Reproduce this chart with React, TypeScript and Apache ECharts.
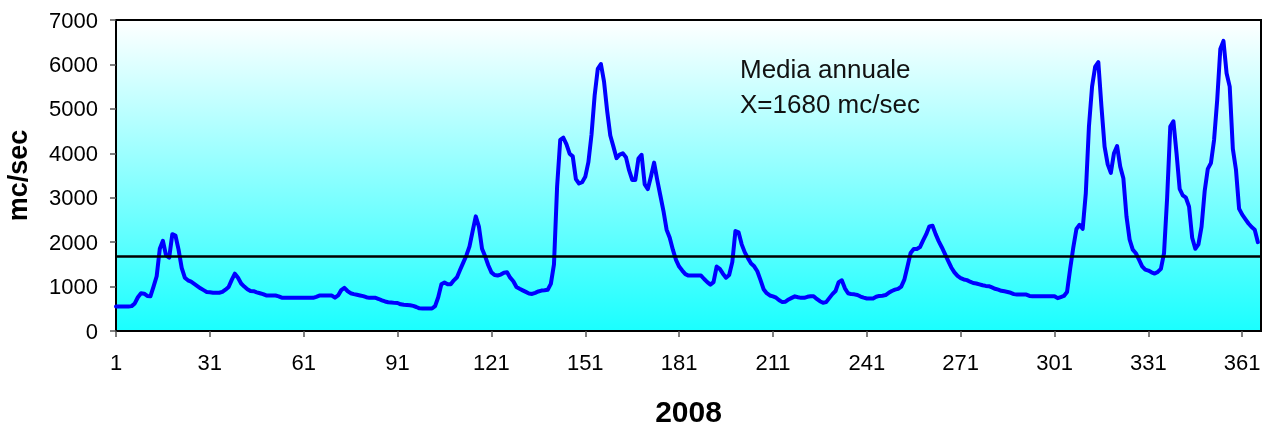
import React, { useEffect, useRef } from "react";
import * as echarts from "echarts";

// Days of 2008 (leap year)
const days: string[] = Array.from({ length: 366 }, (_, i) => String(i + 1));
// one empty slot so the axis frame runs just past the last day, as in the original
const axisCategories: string[] = [...days, ""];

// Daily discharge (mc/sec)
const flow: number[] = [
  550, 550, 550, 550, 550, 560, 620, 760, 850, 840,
  790, 780, 1000, 1232, 1850, 2030, 1700, 1650, 2180, 2150,
  1831, 1420, 1200, 1140, 1110, 1060, 1010, 960, 920, 880,
  870, 860, 860, 860, 880, 930, 990, 1150, 1290, 1200,
  1070, 1000, 940, 900, 895, 870, 850, 830, 800, 798,
  798, 798, 780, 750, 746, 746, 746, 746, 746, 746,
  746, 746, 746, 746, 770, 798, 798, 798, 798, 798,
  750, 800, 920, 970, 900, 850, 830, 815, 800, 785,
  760, 746, 746, 746, 720, 690, 665, 648, 640, 633,
  630, 600, 590, 585, 580, 565, 540, 510, 506, 506,
  506, 506, 560, 760, 1050, 1090, 1050, 1050, 1140, 1210,
  1380, 1540, 1700, 1906, 2250, 2580, 2350, 1850, 1680, 1480,
  1320, 1260, 1250, 1270, 1310, 1320, 1200, 1120, 990, 950,
  915, 880, 845, 835, 860, 890, 910, 918, 930, 1060,
  1500, 3250, 4300, 4350, 4200, 3990, 3930, 3420, 3320, 3350,
  3470, 3800, 4420, 5300, 5900, 6010, 5613, 4950, 4400, 4150,
  3890, 3970, 4000, 3913, 3620, 3400, 3400, 3880, 3966, 3300,
  3195, 3478, 3790, 3400, 3050, 2700, 2281, 2100, 1831, 1600,
  1450, 1360, 1280, 1247, 1247, 1247, 1247, 1247, 1170, 1100,
  1045, 1100, 1450, 1400, 1290, 1200, 1260, 1550, 2250, 2220,
  1950, 1770, 1640, 1520, 1456, 1344, 1150, 940, 850, 800,
  780, 750, 690, 650, 660, 710, 746, 780, 760, 746,
  746, 770, 783, 783, 722, 670, 635, 650, 740, 830,
  900, 1100, 1140, 960, 850, 830, 825, 810, 775, 750,
  731, 731, 731, 770, 790, 795, 810, 860, 900, 930,
  948, 1000, 1157, 1450, 1757, 1847, 1847, 1890, 2040, 2180,
  2355, 2370, 2180, 2018, 1880, 1730, 1580, 1430, 1320, 1240,
  1190, 1160, 1145, 1110, 1080, 1070, 1050, 1030, 1015, 1008,
  980, 950, 930, 905, 893, 878, 860, 830, 820, 820,
  820, 820, 790, 783, 783, 783, 783, 783, 783, 783,
  783, 740, 765, 790, 880, 1400, 1880, 2296, 2390, 2300,
  3100, 4600, 5500, 5950, 6050, 5050, 4150, 3750, 3560, 4000,
  4160, 3700, 3440, 2580, 2060, 1830, 1750, 1607, 1456, 1382,
  1360, 1320, 1292, 1330, 1400, 1750, 3000, 4600, 4720, 4000,
  3200, 3050, 3000, 2800, 2100, 1850, 1950, 2350, 3150, 3650,
  3780, 4300, 5200, 6350, 6530, 5800, 5500, 4100, 3630, 2750,
  2620, 2520, 2420, 2340, 2280, 2000,
];

const MEAN = 1680;
const yMin = 0;
const yMax = 7000;
const yStep = 1000;
const noteLines: string[] = ["Media annuale", `X=${MEAN} mc/sec`];
const xTitle = "2008";
const yTitle = "mc/sec";

const FONT = "'Liberation Sans', Arial, sans-serif";

export default function App() {
  const ref = useRef<HTMLDivElement>(null);

  useEffect(() => {
    if (!ref.current) return;
    const chart = echarts.init(ref.current, null, { renderer: "svg" });
    const axisLineStyle = { color: "#000", width: 2 };
    const tickStyle = { color: "#555", width: 1.5 };
    chart.setOption({
      animation: false,
      grid: {
        left: 116,
        top: 20,
        right: 11,
        bottom: 97,
        containLabel: false,
        outerBoundsMode: "none",
        show: true,
        backgroundColor: new echarts.graphic.LinearGradient(0, 0, 0, 1, [
          { offset: 0, color: "#ffffff" },
          { offset: 1, color: "#1affff" },
        ]),
        borderColor: "#000",
        borderWidth: 2,
      },
      xAxis: {
        type: "category",
        data: axisCategories,
        boundaryGap: false,
        axisLine: { show: true, lineStyle: axisLineStyle },
        axisTick: { show: true, interval: 29, length: 6, lineStyle: tickStyle },
        axisLabel: {
          interval: 29,
          color: "#000",
          fontSize: 22,
          fontFamily: FONT,
          margin: 20,
        },
        splitLine: { show: false },
        name: xTitle,
        nameLocation: "middle",
        nameGap: 65,
        nameTextStyle: { fontWeight: "bold", fontSize: 30, color: "#000", fontFamily: FONT },
      },
      yAxis: {
        type: "value",
        min: yMin,
        max: yMax,
        interval: yStep,
        axisLine: { show: true, lineStyle: axisLineStyle },
        axisTick: { show: true, length: 6, lineStyle: tickStyle },
        axisLabel: {
          color: "#000",
          fontSize: 22,
          fontFamily: FONT,
          margin: 18,
          formatter: (v: number) => String(v),
        },
        splitLine: { show: false },
        name: yTitle,
        nameLocation: "middle",
        nameGap: 85,
        nameTextStyle: { fontWeight: "bold", fontSize: 27, color: "#000", fontFamily: FONT },
      },
      series: [
        {
          type: "line",
          data: flow,
          showSymbol: false,
          symbol: "none",
          lineStyle: { color: "#0000ff", width: 4, cap: "round", join: "round" },
          z: 3,
          markLine: {
            silent: true,
            symbol: "none",
            label: { show: false },
            lineStyle: { color: "#000", width: 2.5, type: "solid" },
            data: [{ yAxis: MEAN }],
          },
        },
      ],
      graphic: noteLines.map((t, i) => ({
        type: "text",
        left: 740,
        top: 56 + i * 35,
        z: 10,
        style: { text: t, fill: "#111", font: `26px ${FONT}` },
      })),
    });
    return () => chart.dispose();
  }, []);

  return (
    <div
      ref={ref}
      style={{ position: "fixed", left: 0, top: 0, width: 1272, height: 428 }}
    />
  );
}
